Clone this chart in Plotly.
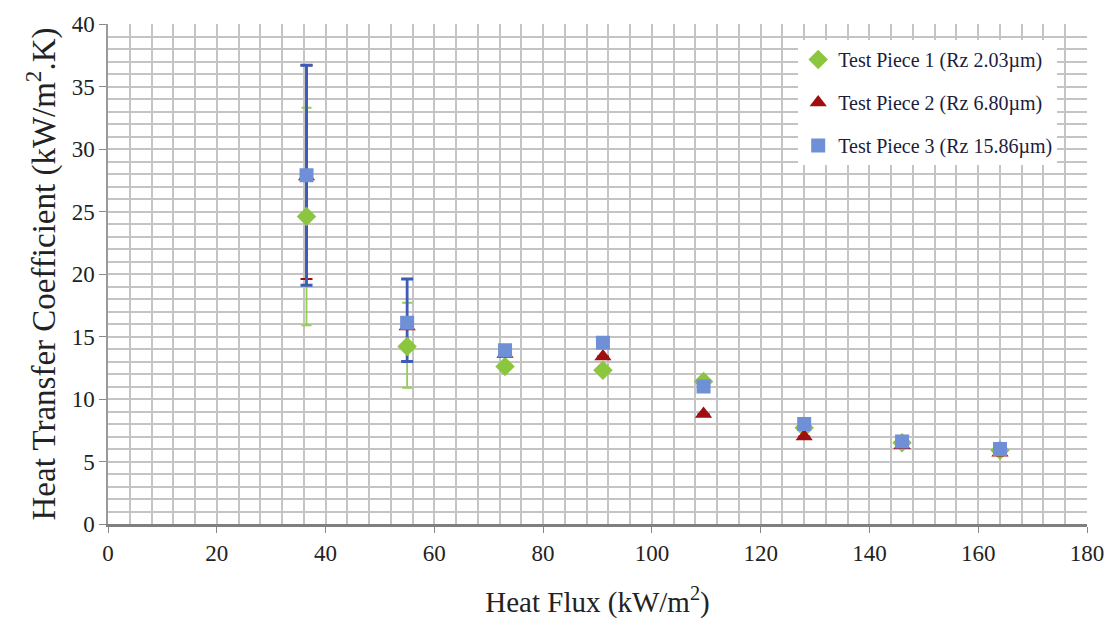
import plotly.graph_objects as go

heat_flux = [36.5, 55, 73, 91, 109.5, 128, 146, 164]

names = ["Test Piece 1 (Rz 2.03µm)", "Test Piece 2 (Rz 6.80µm)", "Test Piece 3 (Rz 15.86µm)"]

htc_1 = [24.6, 14.2, 12.6, 12.3, 11.4, 7.7, 6.5, 5.9]
htc_2 = [27.8, 15.8, 13.6, 13.4, 8.8, 7.0, 6.3, 5.7]
htc_3 = [27.9, 16.1, 13.9, 14.5, 11.0, 8.0, 6.6, 6.0]

err_up_1 = [8.7, 3.5, 0, 0, 0, 0, 0, 0]
err_dn_1 = [8.7, 3.3, 0, 0, 0, 0, 0, 0]
err_up_2 = [8.9, 0, 0, 0, 0, 0, 0, 0]
err_dn_2 = [8.2, 0, 0, 0, 0, 0, 0, 0]
err_up_3 = [8.8, 3.5, 0, 0, 0, 0, 0, 0]
err_dn_3 = [8.8, 3.1, 0, 0, 0, 0, 0, 0]

x_ticks = [0, 20, 40, 60, 80, 100, 120, 140, 160, 180]
y_ticks = [0, 5, 10, 15, 20, 25, 30, 35, 40]

series = [
    (names[0], htc_1, err_up_1, err_dn_1, "#8cc63f", "#92d050", "diamond", 15, 1.8, 5),
    (names[1], htc_2, err_up_2, err_dn_2, "#a00e0e", "#a00e0e", "triangle-up", 15, 2.2, 6),
    (names[2], htc_3, err_up_3, err_dn_3, "#6f8fd6", "#3f5bb8", "square", 14, 2.8, 6),
]

fig = go.Figure()

# error bars first (drawn beneath all markers)
for name, y, eu, ed, mcol, ecol, sym, size, thick, capw in series:
    fig.add_trace(go.Scatter(
        x=heat_flux, y=y, mode="markers",
        marker=dict(size=1, opacity=0),
        error_y=dict(type="data", symmetric=False, array=eu, arrayminus=ed,
                     color=ecol, thickness=thick, width=capw),
        showlegend=False, hoverinfo="skip",
    ))

for i, (name, y, eu, ed, mcol, ecol, sym, size, thick, capw) in enumerate(series):
    fig.add_trace(go.Scatter(
        x=heat_flux, y=y, mode="markers", name=name, legendgroup=f"g{i}",
        marker=dict(symbol=sym, size=size, color=mcol, line=dict(width=0)),
    ))

fig.update_layout(
    width=1117, height=626,
    margin=dict(l=108, r=30, t=16, b=101),
    paper_bgcolor="white", plot_bgcolor="white",
    font=dict(family="Liberation Serif, Times New Roman, serif", color="#222222"),
    legend=dict(
        x=0.705, y=0.968, xanchor="left", yanchor="top",
        bgcolor="white", borderwidth=0,
        font=dict(size=20, color="#1c1c3c"),
        tracegroupgap=14, itemsizing="trace", itemwidth=30,
    ),
    xaxis=dict(
        range=[0, 180], tickvals=x_ticks, ticks="outside", ticklen=6, tickcolor="#888",
        tickfont=dict(size=23), showgrid=True, gridcolor="#c4c4c4", gridwidth=1.5,
        minor=dict(dtick=4, showgrid=True, gridcolor="#c4c4c4", gridwidth=1.5),
        showline=True, linecolor="#7f7f7f", linewidth=3, zeroline=False,
        title=dict(text="Heat Flux (kW/m<sup>2</sup>)", font=dict(size=29), standoff=28),
    ),
    yaxis=dict(
        range=[0, 40], tickvals=y_ticks, ticks="outside", ticklen=7, tickcolor="#888",
        tickfont=dict(size=23), showgrid=True, gridcolor="#c4c4c4", gridwidth=1.5,
        minor=dict(dtick=1, showgrid=True, gridcolor="#c4c4c4", gridwidth=1.5),
        showline=True, linecolor="#9a9a9a", linewidth=1.5, zeroline=False,
        title=dict(text="Heat Transfer Coefficient (kW/m<sup>2</sup>.K)", font=dict(size=33), standoff=6),
    ),
)

fig.write_html("out.html")
